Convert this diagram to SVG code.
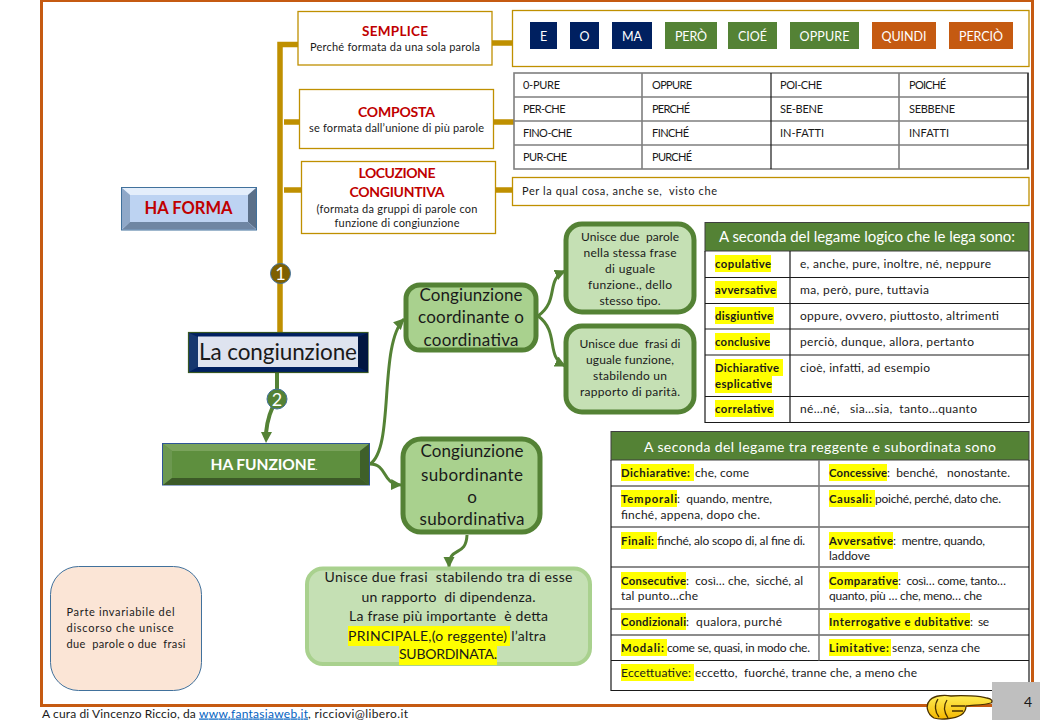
<svg xmlns="http://www.w3.org/2000/svg" width="1040" height="720" viewBox="0 0 1040 720">
<style>
text{font-family:"Lato","Liberation Sans",sans-serif;fill:#1a1a1a;white-space:pre}
.m{text-anchor:middle}
.gb{fill:#fff;stroke:#BF9000;stroke-width:1.3}
.red{fill:#C00000;font-weight:700}
.s{font-size:11px}
.t{font-size:12px}
.w{fill:#fff;font-size:12.5px}
.g1{fill:#A9D18E;stroke:#548235;stroke-width:5}
.g2{fill:#C5E0B4;stroke:#548235;stroke-width:5}
.n{font-size:17px}
.c{font-size:12px}
.b{font-weight:700;font-size:11.3px}
.h{fill:#FFFF00}
.line{fill:none;stroke:#1a1a1a;stroke-width:1.2}
.grey{fill:none;stroke:#7f7f7f;stroke-width:1.6}
.gold{fill:none;stroke:#BF9000;stroke-width:5.5}
.arr{fill:none;stroke:#548235;stroke-width:3;marker-end:url(#ah)}
</style>
<defs>
<marker id="ah" markerUnits="userSpaceOnUse" markerWidth="12" markerHeight="12" refX="10" refY="5.5" orient="auto"><path d="M0 0L11 5.5L0 11z" fill="#548235"/></marker>
<linearGradient id="hg" x1="0" y1="0" x2="0" y2="1"><stop offset="0" stop-color="#FFEE55"/><stop offset="1" stop-color="#F5B800"/></linearGradient>
</defs>
<rect x="41.5" y="0.5" width="991" height="705" fill="#fff" stroke="#C55A11" stroke-width="3"/>
<g id="connectors">
<path class="gold" d="M298 44.500H280V332"/>
<path class="gold" d="M284 122H299M284 190H302M492 43H512M494 122H514M495 190H512"/>
<path fill="none" stroke="#548235" stroke-width="4" d="M277 373V399C270 410 267 422 266 433"/>
<path d="M261 432L272 432L266 443z" fill="#548235"/>
<path class="arr" d="M370 464C395 448 378 345 404 319"/>
<path class="arr" d="M370 464C388 464 381 484 401 485"/>
<path class="arr" d="M538 316C560 300 545 280 565 271"/>
<path class="arr" d="M538 316C560 332 545 356 565 366"/>
<path class="arr" d="M467 535C466 558 449 545 449 567"/>
</g>
<g id="semplice"><rect class="gb" x="298" y="11.500" width="194" height="53.500"/>
<text class="red m" x="395" y="36" font-size="13.500" textLength="66">SEMPLICE</text>
<text class="m s" x="395" y="51" textLength="170">Perché formata da una sola parola</text></g>
<g id="esempi"><rect class="gb" x="512.500" y="10.500" width="516.500" height="56"/>
<rect x="530" y="22" width="27" height="27" fill="#002060"/><text class="w m" x="543.500" y="41" textLength="7">E</text>
<rect x="570" y="22" width="29" height="27" fill="#002060"/><text class="w m" x="584.500" y="41" textLength="10">O</text>
<rect x="612" y="22" width="40" height="27" fill="#002060"/><text class="w m" x="632" y="41" textLength="20">MA</text>
<rect x="665" y="22" width="52" height="27" fill="#548235"/><text class="w m" x="691" y="41" textLength="32">PERÒ</text>
<rect x="728" y="22" width="49" height="27" fill="#548235"/><text class="w m" x="752.500" y="41" textLength="29">CIOÉ</text>
<rect x="790" y="22" width="69" height="27" fill="#548235"/><text class="w m" x="824.500" y="41" textLength="50">OPPURE</text>
<rect x="872" y="22" width="64" height="27" fill="#C55A11"/><text class="w m" x="904" y="41" textLength="45">QUINDI</text>
<rect x="949" y="22" width="64" height="27" fill="#C55A11"/><text class="w m" x="981" y="41" textLength="44">PERCIÒ</text></g>
<g id="composta"><rect class="gb" x="299.500" y="89.500" width="194" height="59"/>
<text class="red m" x="396.500" y="117" font-size="14" textLength="77">COMPOSTA</text>
<text class="m s" x="396.500" y="132" textLength="175">se formata dall’unione di più parole</text></g>
<g id="tabella-composte">
<rect x="514" y="73" width="514" height="96" fill="#fff" stroke="#7f7f7f" stroke-width="1.600"/>
<path class="grey" d="M514 97H1028M514 121H1028M514 145H1028M642 73V169M899 73V169"/>
<path class="line" d="M771 73V169M1028 73V169"/>
<text class="s" x="523" y="89" textLength="37">0-PURE</text><text class="s" x="652" y="89" textLength="40">OPPURE</text><text class="s" x="780" y="89" textLength="42">POI-CHE</text><text class="s" x="909" y="89" textLength="37">POICHÉ</text>
<text class="s" x="523" y="113" textLength="42.500">PER-CHE</text><text class="s" x="652" y="113" textLength="38">PERCHÉ</text><text class="s" x="780" y="113" textLength="43">SE-BENE</text><text class="s" x="909" y="113" textLength="46">SEBBENE</text>
<text class="s" x="523" y="137" textLength="49">FINO-CHE</text><text class="s" x="652" y="137" textLength="37">FINCHÉ</text><text class="s" x="780" y="137" textLength="44">IN-FATTI</text><text class="s" x="909" y="137" textLength="40">INFATTI</text>
<text class="s" x="523" y="161" textLength="44">PUR-CHE</text><text class="s" x="652" y="161" textLength="40">PURCHÉ</text>
</g>
<g id="locuzione"><rect class="gb" x="301.500" y="161.500" width="194" height="72"/>
<text class="red m" x="397" y="178" font-size="14" textLength="77">LOCUZIONE</text>
<text class="red m" x="397" y="197" font-size="14" textLength="95">CONGIUNTIVA</text>
<text class="m s" x="397" y="213" textLength="161">(formata da gruppi di parole con</text>
<text class="m s" x="397" y="227" textLength="125">funzione di congiunzione</text></g>
<g id="esempi-locuzione"><rect class="gb" x="512.500" y="177.500" width="516.500" height="28"/>
<text class="s" x="522" y="195" textLength="195">Per la qual cosa, anche se,  visto che</text></g>
<g id="ha-forma">
<rect x="121.500" y="187.500" width="135" height="42.500" fill="#BDD3F2" stroke="#41719C" stroke-width="1"/>
<path d="M122 188H256L248 195H130z" fill="#E4EEFB"/><path d="M122 188L130 195V222L122 229z" fill="#8FA8C8"/>
<path d="M256 188L248 195V222L256 229z" fill="#5B7089"/><path d="M122 229.500L130 222H248L256 229.500z" fill="#6F86A3"/>
<text class="red m" x="188.500" y="214" font-size="16.500" textLength="88">HA FORMA</text></g>
<g id="congiunzione">
<rect x="188.500" y="332.500" width="179.500" height="40" fill="#002060" stroke="#385723" stroke-width="1.200"/>
<path d="M189 333L198 337V367L189 372z" fill="#16376F"/><path d="M368 333L358 337V367L368 372z" fill="#011640"/>
<rect x="198" y="336.500" width="160" height="30.500" fill="#DEE3EF"/>
<text class="m" x="278" y="360" font-size="22.500" textLength="158">La congiunzione</text></g>
<g id="ha-funzione">
<rect x="162.500" y="443.500" width="207" height="41.500" fill="#5E8F3E" stroke="#2F5597" stroke-width="1"/>
<path d="M163 444H369L360 451H172z" fill="#7AA35C"/><path d="M163 444L172 451V478L163 485z" fill="#6C9850"/>
<path d="M369 444L360 451V478L369 485z" fill="#3F6029"/><path d="M163 485L172 478H360L369 485z" fill="#3C5A27"/>
<text style="fill:#fff;font-weight:700" x="210.500" y="470" font-size="15.500" textLength="107">HA FUNZIONE<tspan font-size="8" font-weight="400">.</tspan></text></g>
<g id="coordinante"><rect class="g1" x="406" y="285" width="130" height="65" rx="14"/>
<text class="m n" x="471" y="301" textLength="103">Congiunzione</text>
<text class="m n" x="471" y="323" textLength="106">coordinante o</text>
<text class="m n" x="471" y="346" textLength="95">coordinativa</text></g>
<g id="unisce-parole"><rect class="g2" x="566" y="224" width="128" height="88" rx="16"/>
<text class="m t" x="630" y="241" textLength="98">Unisce due  parole</text>
<text class="m t" x="630" y="257" textLength="93">nella stessa frase</text>
<text class="m t" x="630" y="273" textLength="50">di uguale</text>
<text class="m t" x="630" y="289" textLength="84">funzione., dello</text>
<text class="m t" x="630" y="305" textLength="61">stesso tipo.</text></g>
<g id="unisce-frasi"><rect class="g2" x="566" y="326" width="128" height="86" rx="16"/>
<text class="m t" x="630" y="348" textLength="101">Unisce due  frasi di</text>
<text class="m t" x="630" y="364" textLength="88">uguale funzione,</text>
<text class="m t" x="630" y="380" textLength="74">stabilendo un</text>
<text class="m t" x="630" y="396" textLength="100">rapporto di parità.</text></g>
<g id="subordinante"><rect class="g1" x="403" y="439" width="137" height="93" rx="18"/>
<text class="m n" x="472" y="457" textLength="103">Congiunzione</text>
<text class="m n" x="472" y="481" textLength="102">subordinante</text>
<text class="m n" x="472" y="503" textLength="11">o</text>
<text class="m n" x="472" y="525" textLength="105">subordinativa</text></g>
<g id="unisce-dipendenza"><rect x="307" y="568.500" width="283" height="95.500" rx="16" fill="#C5E0B4" stroke="#A9D18E" stroke-width="4"/>
<rect class="h" x="348" y="626" width="162" height="20"/><rect class="h" x="399" y="645" width="98" height="20"/>
<text class="m" font-size="14" x="448.500" y="582" textLength="248">Unisce due frasi  stabilendo tra di esse</text>
<text class="m" font-size="14" x="448.500" y="602" textLength="174">un rapporto  di dipendenza.</text>
<text class="m" font-size="14" x="448.500" y="621" textLength="199">La frase più importante  è detta</text>
<text class="m" font-size="14" x="447" y="641" textLength="198">PRINCIPALE,(o reggente) l’altra</text>
<text class="m" font-size="14" x="448" y="659" textLength="98">SUBORDINATA.</text></g>
<g id="definizione"><rect x="50.500" y="566.500" width="151" height="124" rx="28" fill="#FBE5D6" stroke="#41719C" stroke-width="1"/>
<text class="s" x="66.500" y="616" textLength="108">Parte invariabile del</text>
<text class="s" x="66.500" y="632" textLength="107">discorso che unisce</text>
<text class="s" x="66.500" y="648" textLength="119">due  parole o due  frasi</text></g>
<g id="badge-1"><circle cx="280.500" cy="273.500" r="10" fill="#7F6000" stroke="#41719C"/><text class="m" style="fill:#fff" x="280.500" y="280" font-size="18">1</text></g>
<g id="badge-2"><circle cx="277" cy="399" r="10" fill="#548235" stroke="#41719C"/><text class="m" style="fill:#fff" x="277" y="405.500" font-size="18">2</text></g>
<g id="tabella-coordinative">
<rect x="705" y="222.500" width="324" height="28.500" fill="#548235" stroke="#3f3f3f"/>
<text style="fill:#fff" x="719" y="242" font-size="15" textLength="296">A seconda del legame logico che le lega sono:</text>
<path class="line" d="M705 251V422.500H1029V251M705 277.500H1029M705 303.500H1029M705 329H1029M705 355H1029M705 396.500H1029M790 251V422.500"/>
<rect class="h" x="715" y="255" width="56" height="17"/><rect class="h" x="715" y="281" width="62" height="17"/><rect class="h" x="715" y="307" width="59" height="17"/><rect class="h" x="715" y="333" width="55" height="17"/><rect class="h" x="715" y="359" width="68" height="17"/><rect class="h" x="715" y="376" width="57" height="17"/><rect class="h" x="715" y="400" width="59" height="17"/>
<text class="b" x="715" y="268" textLength="56">copulative</text><text class="c" x="800" y="268" textLength="191">e, anche, pure, inoltre, né, neppure</text>
<text class="b" x="715" y="294" textLength="61">avversative</text><text class="c" x="800" y="294" textLength="129">ma, però, pure, tuttavia</text>
<text class="b" x="715" y="320" textLength="58">disgiuntive</text><text class="c" x="800" y="320" textLength="199">oppure, ovvero, piuttosto, altrimenti</text>
<text class="b" x="715" y="346" textLength="55">conclusive</text><text class="c" x="800" y="346" textLength="174">perciò, dunque, allora, pertanto</text>
<text class="b" x="715" y="372" textLength="64">Dichiarative</text><text class="c" x="800" y="372" textLength="130">cioè, infatti, ad esempio</text>
<text class="b" x="715" y="388" textLength="57">esplicative</text>
<text class="b" x="715" y="413" textLength="58">correlative</text><text class="c" x="800" y="413" textLength="177">né…né,   sia…sia,  tanto…quanto</text>
</g>
<g id="tabella-subordinate">
<rect x="611" y="431.500" width="418" height="28.500" fill="#548235" stroke="#3f3f3f"/>
<text style="fill:#fff" x="644" y="452" font-size="14" textLength="352">A seconda del legame tra reggente e subordinata sono</text>
<path class="line" d="M611 460V690.500H1029V460M611 486H1029M611 527H1029M611 567H1029M611 609H1029M611 635H1029M611 660.500H1029"/>
<path class="grey" d="M819 460V660.500"/>
<rect class="h" x="621" y="464" width="73" height="17"/><rect class="h" x="829" y="464" width="58" height="17"/>
<rect class="h" x="621" y="490" width="56" height="17"/><rect class="h" x="829" y="490" width="46" height="17"/>
<rect class="h" x="621" y="532" width="36" height="17"/><rect class="h" x="829" y="532" width="64" height="17"/>
<rect class="h" x="621" y="572" width="65" height="17"/><rect class="h" x="829" y="572" width="69" height="17"/>
<rect class="h" x="621" y="613" width="65" height="17"/><rect class="h" x="829" y="613" width="141" height="17"/>
<rect class="h" x="621" y="639" width="46" height="17"/><rect class="h" x="829" y="639" width="62" height="17"/>
<rect class="h" x="621" y="664" width="73" height="17"/>
<text class="b" x="621" y="477" textLength="69">Dichiarative:</text><text class="c" x="695" y="477" textLength="54">che, come</text>
<text class="b" x="829" y="477" textLength="58">Concessive</text><text class="c" x="887" y="477" textLength="123">:  benché,   nonostante.</text>
<text class="b" x="621" y="503" textLength="56">Temporali</text><text class="c" x="677" y="503" textLength="95">:  quando, mentre,</text>
<text class="c" x="621" y="519" textLength="139">finché, appena, dopo che.</text>
<text class="b" x="829" y="503" textLength="43">Causali:</text><text class="c" x="875" y="503" textLength="126">poiché, perché, dato che.</text>
<text class="b" x="621" y="545" textLength="33">Finali:</text><text class="c" x="657" y="545" textLength="148">finché, alo scopo di, al fine di.</text>
<text class="b" x="829" y="545" textLength="64">Avversative</text><text class="c" x="893" y="545" textLength="92">:  mentre, quando,</text>
<text class="c" x="829" y="560" textLength="41">laddove</text>
<text class="b" x="621" y="585" textLength="65">Consecutive</text><text class="c" x="686" y="585" textLength="117">:  così… che,  sicché, al</text>
<text class="c" x="621" y="600" textLength="77">tal punto…che</text>
<text class="b" x="829" y="585" textLength="69">Comparative</text><text class="c" x="898" y="585" textLength="108">:  così… come, tanto…</text>
<text class="c" x="829" y="600" textLength="153">quanto, più … che, meno… che</text>
<text class="b" x="621" y="626" textLength="65">Condizionali</text><text class="c" x="686" y="626" textLength="96">:  qualora, purché</text>
<text class="b" x="829" y="626" textLength="141">Interrogative e dubitative</text><text class="c" x="970" y="626" textLength="19">:  se</text>
<text class="b" x="621" y="652" textLength="43">Modali:</text><text class="c" x="667" y="652" textLength="143">come se, quasi, in modo che.</text>
<text class="b" x="829" y="652" textLength="60">Limitative:</text><text class="c" x="892" y="652" textLength="88">senza, senza che</text>
<text class="c" x="621" y="677" textLength="70">Eccettuative:</text><text class="c" x="695" y="677" textLength="222">eccetto,  fuorché, tranne che, a meno che</text>
</g>
<rect x="992" y="682" width="48" height="38" fill="#BFBFBF"/>
<text x="1028" y="707" font-size="14" class="m">4</text>
<g id="mano" stroke="#4a3200" stroke-width="1.300">
<path fill="url(#hg)" d="M930 700C935 695 945 695 951 696C962 695 980 696 987 698C992 699 993 701 991 703C985 705 972 705 966 706C966 710 964 713 961 715C955 719 940 720 934 718C927 714 925 705 930 700Z"/>
<path fill="none" d="M938 699C934 705 935 712 939 717M947 700C943 706 944 712 948 718M951 706H965M952 711H963"/>
</g>
<text x="42" y="717.500" font-size="12" textLength="157">A cura di Vincenzo Riccio, da </text>
<text x="199" y="717.500" font-size="12" textLength="109" style="fill:#0563C1" text-decoration="underline">www.fantasiaweb.it</text>
<text x="308" y="717.500" font-size="12" textLength="100">, ricciovi@libero.it</text>
</svg>
